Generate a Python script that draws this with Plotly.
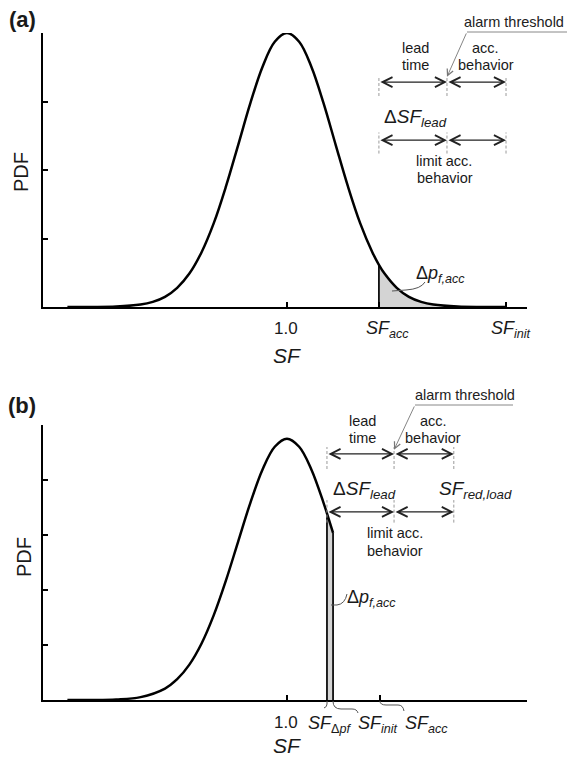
import plotly.graph_objects as go

W, H = 567, 759

# ---------------- Panel (a) data ----------------
sf_a = [0.10, 0.20, 0.30, 0.40, 0.45, 0.50, 0.55, 0.60, 0.65, 0.70, 0.75, 0.80, 0.85,
        0.90, 0.95, 1.00, 1.05, 1.10, 1.15, 1.20, 1.25, 1.30, 1.35, 1.377, 1.40, 1.45,
        1.50, 1.55, 1.60, 1.70, 1.80, 1.90]
pdf_a = [0.0, 0.0002, 0.0016, 0.0088, 0.0187, 0.037, 0.070, 0.122, 0.200, 0.306, 0.440,
         0.591, 0.744, 0.877, 0.968, 1.0, 0.968, 0.877, 0.744, 0.591, 0.440, 0.306, 0.200,
         0.154, 0.122, 0.070, 0.037, 0.0187, 0.0088, 0.0016, 0.0002, 0.0]
sf_acc_a = 1.377
sf_alarm_a = 1.656
sf_init_a = 1.898
yticks_a = [0.25, 0.5, 0.75, 1.0]

# ---------------- Panel (b) data ----------------
sf_b = [0.10, 0.15, 0.20, 0.30, 0.40, 0.50, 0.55, 0.60, 0.65, 0.70, 0.75, 0.80, 0.85,
        0.90, 0.95, 1.00, 1.05, 1.10, 1.15, 1.164, 1.189]
pdf_b = [0.0, 0.0001, 0.0003, 0.0021, 0.0105, 0.0417, 0.0756, 0.1286, 0.2055, 0.3085,
         0.4349, 0.5762, 0.7171, 0.8384, 0.9208, 0.95, 0.9208, 0.8384, 0.7171, 0.679, 0.608]
sf_dpf_b = 1.164
sf_init_b = 1.189
sf_alarm_b = 1.439
sf_redload_b = 1.684
sf_acc_b = 1.381
yticks_b = [0.2, 0.4, 0.6, 0.8, 1.0]

sf_one = 1.0
x_max = 1.984

FONT = "Liberation Sans, Arial, Helvetica, sans-serif"
TXT = "#1a1a1a"
GRAY_FILL = "#d4d4d4"


def px(x):
    return x / W


def py(y):
    return 1 - y / H


fig = go.Figure()

# ---- panel (a) traces ----
i0 = sf_a.index(sf_acc_a)
fig.add_trace(go.Scatter(x=sf_a[i0:], y=pdf_a[i0:], mode="lines", line=dict(width=0, shape="spline"),
                         fill="tozeroy", fillcolor=GRAY_FILL, xaxis="x", yaxis="y",
                         hoverinfo="skip", showlegend=False))
fig.add_trace(go.Scatter(x=sf_a, y=pdf_a, mode="lines", line=dict(color="black", width=2.5, shape="spline"),
                         xaxis="x", yaxis="y", showlegend=False))
fig.add_trace(go.Scatter(x=[sf_acc_a, sf_acc_a], y=[0, pdf_a[i0]], mode="lines",
                         line=dict(color="black", width=1.7), xaxis="x", yaxis="y", showlegend=False))

# ---- panel (b) traces ----
j0 = sf_b.index(sf_dpf_b)
j1 = sf_b.index(sf_init_b)
fig.add_trace(go.Scatter(x=[sf_dpf_b, sf_dpf_b, sf_init_b, sf_init_b],
                         y=[0, pdf_b[j0], pdf_b[j1], 0], mode="lines", fill="toself",
                         fillcolor=GRAY_FILL, line=dict(width=0), xaxis="x2", yaxis="y2",
                         hoverinfo="skip", showlegend=False))
fig.add_trace(go.Scatter(x=sf_b, y=pdf_b, mode="lines", line=dict(color="black", width=2.5, shape="spline"),
                         xaxis="x2", yaxis="y2", showlegend=False))
for xv, j in ((sf_dpf_b, j0), (sf_init_b, j1)):
    fig.add_trace(go.Scatter(x=[xv, xv], y=[0, pdf_b[j]], mode="lines",
                             line=dict(color="black", width=1.7), xaxis="x2", yaxis="y2",
                             showlegend=False))

axis_common = dict(showline=True, linecolor="black", linewidth=2, ticks="inside", ticklen=5,
                   tickwidth=1.5, tickcolor="black", showgrid=False, zeroline=False,
                   showticklabels=False, fixedrange=True)

fig.update_layout(
    width=W, height=H, margin=dict(l=0, r=0, t=0, b=0),
    paper_bgcolor="white", plot_bgcolor="white", showlegend=False,
    xaxis=dict(domain=[px(43), px(527)], range=[0, x_max], anchor="y",
               tickvals=[sf_one, sf_acc_a, sf_init_a, x_max], **axis_common),
    yaxis=dict(domain=[py(307), py(33)], range=[0, 1], anchor="x",
               tickvals=yticks_a, **axis_common),
    xaxis2=dict(domain=[px(43), px(527)], range=[0, x_max], anchor="y2",
                tickvals=[sf_one, sf_acc_b, x_max], **axis_common),
    yaxis2=dict(domain=[py(700), py(425)], range=[0, 1], anchor="x2",
                tickvals=yticks_b, **axis_common),
)

ann = []
shapes = []


def text(t, x, y, size, xanchor="center", bold=False, angle=0, color=TXT):
    ann.append(dict(xref="paper", yref="paper", x=px(x), y=py(y), text=("<b>%s</b>" % t) if bold else t,
                    showarrow=False, xanchor=xanchor, yanchor="middle", textangle=angle,
                    font=dict(family=FONT, size=size, color=color)))


def darrow(xr, yr, x0, x1, y):
    ann.append(dict(xref=xr, yref=yr, axref=xr, ayref=yr, x=x1, y=y, ax=x0, ay=y, text="",
                    showarrow=True, arrowhead=5, startarrowhead=5, arrowside="end+start",
                    arrowsize=1.5, startarrowsize=1.5, arrowwidth=1.3, arrowcolor="#222"))


def dashed(xr, yr, x, y0, y1):
    shapes.append(dict(type="line", xref=xr, yref=yr, x0=x, x1=x, y0=y0, y1=y1,
                       line=dict(color="#9a9a9a", width=1, dash="3px,2px")))


def ppath(pts_cmd, color="#555", width=1):
    shapes.append(dict(type="path", xref="paper", yref="paper", path=pts_cmd,
                       line=dict(color=color, width=width)))


def P(x, y):
    return "%.5f,%.5f" % (px(x), py(y))


S_SMALL = 14.5

# ---------- panel (a) annotations ----------
text("(a)", 22, 19, 22, bold=True)
text("PDF", 21, 172, 20, angle=-90)
text("<i>SF</i>", 287, 355, 21)
text("1.0", 286, 328, 17)
text("<i>SF</i><sub><i>acc</i></sub>", 364, 330, 18, xanchor="left")
text("<i>SF</i><sub><i>init</i></sub>", 489, 330, 18, xanchor="left")

text("lead", 415, 48, S_SMALL)
text("time", 415, 65, S_SMALL)
text("acc.", 485, 48, S_SMALL)
text("behavior", 486, 65, S_SMALL)
text("alarm threshold", 514, 22, S_SMALL, color="#222")
shapes.append(dict(type="line", xref="paper", yref="paper", x0=px(467), x1=px(567), y0=py(32), y1=py(32),
                   line=dict(color="#888", width=1)))
ann.append(dict(xref="x", yref="y", axref="x", ayref="y", x=sf_alarm_a, y=0.84, ax=1.738, ay=1.004,
                text="", showarrow=True, arrowhead=5, arrowsize=1.4, arrowwidth=0.9, arrowcolor="#777"))

ya1, ya2 = 0.821, 0.609
for xv in (sf_acc_a, sf_alarm_a, sf_init_a):
    dashed("x", "y", xv, 0.770, 0.842)
    dashed("x", "y", xv, 0.560, 0.637)
darrow("x", "y", sf_acc_a, sf_alarm_a, ya1)
darrow("x", "y", sf_alarm_a, sf_init_a, ya1)
darrow("x", "y", sf_acc_a, sf_alarm_a, ya2)
darrow("x", "y", sf_alarm_a, sf_init_a, ya2)
text("Δ<i>SF</i><sub><i>lead</i></sub>", 382, 118, 19, xanchor="left")
text("limit acc.", 444, 161, S_SMALL)
text("behavior", 445, 178, S_SMALL)

text("Δ<i>p</i><sub><i>f,acc</i></sub>", 414, 274, 18, xanchor="left")
ppath("M" + P(392, 291) + " L" + P(406, 290) + " Q" + P(421, 289) + " " + P(425, 282))

# ---------- panel (b) annotations ----------
text("(b)", 22, 405, 22, bold=True)
text("PDF", 24, 557, 20, angle=-90)
text("<i>SF</i>", 287, 745, 21)
text("1.0", 286, 722, 17)
text("<i>SF</i><sub>Δ<i>pf</i></sub>", 306, 724, 18, xanchor="left")
text("<i>SF</i><sub><i>init</i></sub>", 356, 724, 18, xanchor="left")
text("<i>SF</i><sub><i>acc</i></sub>", 403, 724, 18, xanchor="left")
ppath("M" + P(327, 701) + " L" + P(327, 704) + " Q" + P(327, 707) + " " + P(324, 708))
ppath("M" + P(333, 701) + " Q" + P(333, 709) + " " + P(341, 709) + " L" + P(352, 709) + " Q" + P(357, 709) + " " + P(358, 713))
ppath("M" + P(380, 701) + " Q" + P(380, 705) + " " + P(386, 705) + " L" + P(398, 705) + " Q" + P(403, 705) + " " + P(404, 711))

text("lead", 362, 421, S_SMALL)
text("time", 362, 438, S_SMALL)
text("acc.", 433, 421, S_SMALL)
text("behavior", 433, 438, S_SMALL)
text("alarm threshold", 465, 395, S_SMALL, color="#222")
shapes.append(dict(type="line", xref="paper", yref="paper", x0=px(415), x1=px(513), y0=py(405), y1=py(405),
                   line=dict(color="#888", width=1)))
ann.append(dict(xref="x2", yref="y2", axref="x2", ayref="y2", x=sf_alarm_b, y=0.91, ax=1.525, ay=1.073,
                text="", showarrow=True, arrowhead=5, arrowsize=1.4, arrowwidth=0.9, arrowcolor="#777"))

yb1, yb2 = 0.895, 0.684
for xv in (sf_dpf_b, sf_alarm_b, sf_redload_b):
    dashed("x2", "y2", xv, 0.840, 0.920)
    dashed("x2", "y2", xv, 0.645, 0.727)
darrow("x2", "y2", sf_dpf_b, sf_alarm_b, yb1)
darrow("x2", "y2", sf_alarm_b, sf_redload_b, yb1)
darrow("x2", "y2", sf_dpf_b, sf_alarm_b, yb2)
darrow("x2", "y2", sf_alarm_b, sf_redload_b, yb2)
text("Δ<i>SF</i><sub><i>lead</i></sub>", 331, 490, 19, xanchor="left")
text("<i>SF</i><sub><i>red,load</i></sub>", 437, 490, 19, xanchor="left")
text("limit acc.", 395, 533, S_SMALL)
text("behavior", 395, 551, S_SMALL)

text("Δ<i>p</i><sub><i>f,acc</i></sub>", 345, 598, 18, xanchor="left")
ppath("M" + P(331, 605) + " L" + P(337, 605) + " Q" + P(345, 604) + " " + P(347, 594))

fig.update_layout(annotations=ann, shapes=shapes)
fig.write_html("out.html", config={"displayModeBar": False},
               post_script="document.body.style.margin='0';document.body.style.overflow='hidden';")
